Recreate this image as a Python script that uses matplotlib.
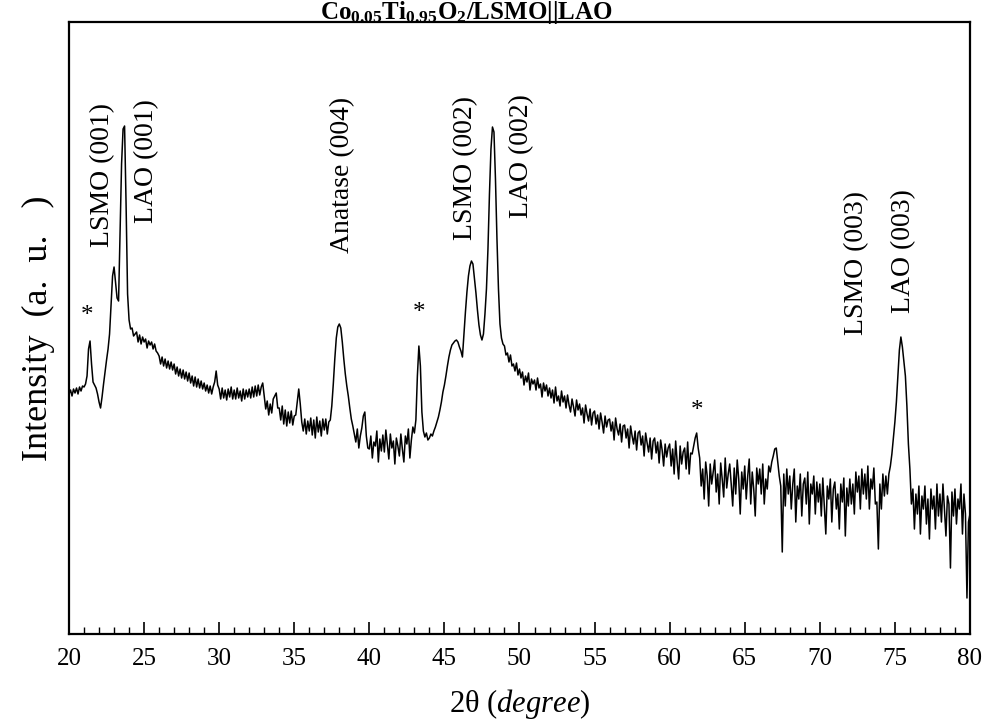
import numpy as np
import matplotlib
matplotlib.use("Agg")
import matplotlib.pyplot as plt

plt.rcParams['font.family'] = ['Liberation Serif', 'DejaVu Serif']
plt.rcParams['mathtext.fontset'] = 'custom'
plt.rcParams['mathtext.rm'] = 'Liberation Serif'
plt.rcParams['mathtext.it'] = 'Liberation Serif:italic'
plt.rcParams['mathtext.bf'] = 'Liberation Serif:bold'

# XRD scan, 20-80 deg, step 0.1 deg (one row per degree), intensity in a.u.
rows = [
    [240, 244, 238, 245, 241, 246, 240, 247, 243, 248],  # 20
    [247, 250, 258, 285, 293, 270, 252, 249, 246, 240],
    [232, 226, 237, 250, 262, 274, 285, 300, 330, 358],
    [367, 352, 336, 333, 400, 470, 505, 508, 430, 340],
    [314, 305, 306, 298, 300, 302, 292, 299, 290, 297],
    [292, 295, 286, 293, 289, 292, 285, 290, 283, 281],  # 25
    [278, 270, 277, 268, 275, 266, 273, 265, 272, 264],
    [270, 260, 267, 258, 265, 256, 264, 255, 262, 253],
    [261, 251, 258, 248, 257, 247, 255, 246, 253, 245],
    [251, 243, 249, 241, 248, 240, 247, 252, 263, 249],
    [245, 235, 246, 236, 244, 234, 245, 237, 247, 235],  # 30
    [244, 235, 246, 236, 243, 233, 245, 235, 244, 237],
    [245, 236, 247, 237, 248, 238, 249, 239, 247, 251],
    [238, 225, 233, 219, 230, 221, 235, 238, 241, 226],
    [226, 214, 228, 210, 224, 208, 222, 211, 223, 209],
    [218, 219, 232, 245, 230, 212, 203, 215, 200, 213],  # 35
    [203, 216, 199, 214, 196, 217, 202, 213, 198, 215],
    [204, 215, 200, 212, 214, 228, 250, 275, 296, 307],
    [310, 306, 292, 275, 260, 248, 238, 226, 215, 208],
    [200, 192, 205, 186, 198, 206, 218, 222, 198, 186],
    [185, 198, 176, 192, 188, 203, 172, 195, 183, 199],  # 40
    [182, 204, 190, 175, 200, 186, 193, 170, 196, 188],
    [178, 200, 185, 172, 198, 190, 205, 176, 194, 207],
    [201, 214, 258, 288, 268, 222, 203, 197, 201, 194],
    [196, 200, 198, 203, 207, 212, 217, 224, 232, 242],
    [249, 258, 268, 277, 284, 289, 291, 293, 294, 292],  # 45
    [287, 283, 277, 300, 322, 342, 358, 368, 373, 370],
    [356, 341, 324, 309, 299, 294, 300, 320, 345, 385],
    [440, 485, 507, 502, 455, 395, 345, 310, 296, 290],
    [288, 279, 281, 272, 279, 268, 270, 263, 271, 259],
    [265, 256, 262, 249, 258, 252, 261, 244, 255, 250],  # 50
    [254, 244, 256, 246, 250, 237, 251, 243, 249, 238],
    [246, 236, 244, 231, 247, 233, 238, 228, 243, 232],
    [238, 226, 239, 229, 222, 235, 227, 218, 234, 224],
    [230, 219, 226, 211, 229, 220, 213, 225, 209, 221],
    [223, 210, 219, 205, 221, 212, 201, 218, 207, 214],  # 55
    [215, 203, 212, 194, 216, 205, 199, 210, 192, 208],
    [209, 196, 205, 186, 208, 198, 190, 203, 184, 201],
    [203, 189, 198, 178, 201, 191, 182, 196, 175, 193],
    [196, 181, 192, 171, 194, 184, 168, 190, 177, 186],
    [190, 168, 185, 160, 193, 172, 155, 188, 170, 182],  # 60
    [186, 165, 192, 160, 181, 180, 188, 196, 201, 186],
    [176, 148, 165, 135, 172, 158, 128, 170, 150, 162],
    [174, 142, 160, 130, 171, 155, 137, 176, 146, 160],
    [170, 150, 128, 166, 140, 174, 155, 120, 162, 145],
    [168, 135, 158, 175, 130, 162, 145, 118, 166, 150],  # 65
    [165, 140, 170, 130, 155, 145, 168, 162, 172, 178],
    [185, 186, 172, 158, 148, 82, 160, 128, 165, 140],
    [158, 125, 150, 165, 112, 148, 135, 160, 118, 150],
    [156, 130, 162, 110, 150, 140, 158, 120, 152, 132],
    [150, 118, 156, 128, 100, 148, 135, 155, 112, 145],  # 70
    [152, 125, 140, 105, 150, 132, 156, 98, 146, 128],
    [155, 130, 150, 120, 162, 142, 158, 125, 165, 140],
    [160, 135, 168, 125, 155, 145, 166, 130, 132, 85],
    [150, 125, 160, 138, 158, 140, 160, 168, 180, 196],
    [212, 232, 258, 284, 297, 287, 272, 258, 228, 190],  # 75
    [165, 130, 145, 105, 140, 120, 148, 100, 138, 125],
    [148, 110, 135, 95, 145, 125, 138, 105, 150, 118],
    [140, 112, 150, 125, 98, 138, 130, 66, 142, 118],
    [145, 110, 135, 125, 150, 100, 140, 120, 36, 112],
    [120],  # 80
]
intensity = np.array([v for r in rows for v in r], dtype=float)
two_theta = np.round(20 + 0.1 * np.arange(len(intensity)), 1)

# peak labels: (2theta, y of label bottom)
peak_labels = ['LSMO (001)', 'LAO (001)', 'Anatase (004)', 'LSMO (002)',
               'LAO (002)', 'LSMO (003)', 'LAO (003)']
peak_x = [22.26, 25.19, 38.24, 46.43, 50.16, 72.46, 75.59]
peak_y = [387, 411, 381, 394, 416, 299, 321]

# impurity peaks marked with *
star_x = [21.2, 43.3, 61.8]
star_y = [312, 315, 217]

fig = plt.figure(figsize=(9.93, 7.26), dpi=100)
ax = fig.add_axes([0.0695, 0.1267, 0.9073, 0.843])

ax.plot(two_theta, intensity, color='black', lw=1.1)

for lab, x, y in zip(peak_labels, peak_x, peak_y):
    ax.text(x, y, lab, rotation=90, ha='center', va='bottom', fontsize=20)
for x, y in zip(star_x, star_y):
    ax.text(x, y, '*', ha='center', va='baseline', fontsize=18)

ax.set_xlim(20, 80)
ax.set_ylim(0, 612)
ax.set_xticks(np.arange(20, 81, 5))
ax.set_xticks(np.arange(20, 81, 1), minor=True)
ax.set_yticks([])
ax.tick_params(axis='x', which='major', direction='in', length=9, width=1.2,
               labelsize=18, pad=10)
ax.tick_params(axis='x', which='minor', direction='in', length=5, width=1.0)
for s in ax.spines.values():
    s.set_linewidth(1.6)

ax.set_xlabel('2\u03b8 (' + r'$\mathit{degree}$' + ')', fontsize=22, labelpad=12)
ax.set_ylabel('Intensity  (a.  u.   )', fontsize=26, labelpad=10)
fig.text(0.47, 0.974, r'$\mathbf{Co_{0.05}Ti_{0.95}O_{2}}$' + '/LSMO||LAO',
         fontsize=18, fontweight='bold', ha='center', va='baseline')

fig.savefig('out.png', dpi=100)
